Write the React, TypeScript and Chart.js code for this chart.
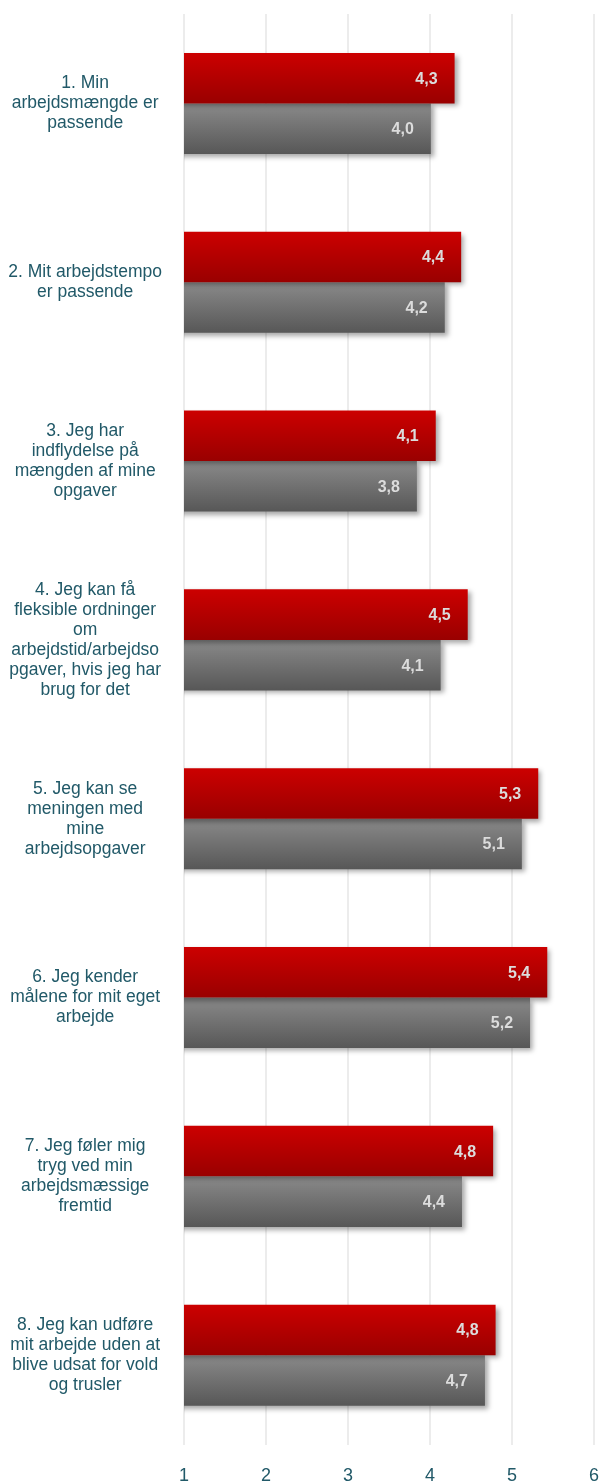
import React, { useEffect, useRef } from "react";
import { Chart, registerables } from "chart.js";

Chart.register(...registerables);

const categories: string[][] = [
  ["1. Min", "arbejdsmængde er", "passende"],
  ["2. Mit arbejdstempo", "er passende"],
  ["3. Jeg har", "indflydelse på", "mængden af mine", "opgaver"],
  ["4. Jeg kan få", "fleksible ordninger", "om", "arbejdstid/arbejdso", "pgaver, hvis jeg har", "brug for det"],
  ["5. Jeg kan se", "meningen med", "mine", "arbejdsopgaver"],
  ["6. Jeg kender", "målene for mit eget", "arbejde"],
  ["7. Jeg føler mig", "tryg ved min", "arbejdsmæssige", "fremtid"],
  ["8. Jeg kan udføre", "mit arbejde uden at", "blive udsat for vold", "og trusler"],
];

const seriesRed: number[] = [4.3, 4.38, 4.07, 4.46, 5.32, 5.43, 4.77, 4.8];
const seriesGray: number[] = [4.01, 4.18, 3.84, 4.13, 5.12, 5.22, 4.39, 4.67];
const xTicks: number[] = [1, 2, 3, 4, 5, 6];

const CAT_PCT = 0.565;
const TEXT_COLOR = "#215968";

function makeGradient(ctx: any, datasetIndex: number, colors: [string, string]) {
  const chart = ctx.chart;
  const area = chart.chartArea;
  const yScale = chart.scales && chart.scales.y;
  if (!area || !yScale) return colors[1];
  const center = yScale.getPixelForValue(ctx.dataIndex);
  const band = (area.bottom - area.top) / categories.length;
  const th = (band * CAT_PCT) / 2;
  const top = datasetIndex === 0 ? center - th : center;
  const g = chart.ctx.createLinearGradient(0, top, 0, top + th);
  g.addColorStop(0, colors[0]);
  g.addColorStop(1, colors[1]);
  return g;
}

const shadowPlugin = {
  id: "barShadow",
  beforeDatasetDraw(chart: any) {
    const c = chart.ctx;
    c.save();
    c.shadowColor = "rgba(0,0,0,0.35)";
    c.shadowBlur = 5;
    c.shadowOffsetX = 3;
    c.shadowOffsetY = 3;
  },
  afterDatasetDraw(chart: any) {
    chart.ctx.restore();
  },
};

const labelPlugin = {
  id: "valueLabels",
  afterDatasetsDraw(chart: any) {
    const c = chart.ctx;
    c.save();
    c.font = "bold 16px 'Liberation Sans', Arial, sans-serif";
    c.fillStyle = "#dcdcdc";
    c.textAlign = "right";
    c.textBaseline = "middle";
    chart.data.datasets.forEach((ds: any, di: number) => {
      const meta = chart.getDatasetMeta(di);
      meta.data.forEach((el: any, i: number) => {
        const v = ds.data[i] as number;
        const txt = v.toFixed(1).replace(".", ",");
        c.fillText(txt, el.x - 17, el.y + 1);
      });
    });
    c.restore();
  },
};

export default function App() {
  const ref = useRef<HTMLCanvasElement | null>(null);
  useEffect(() => {
    if (!ref.current) return;
    const chart = new Chart(ref.current, {
      type: "bar",
      data: {
        labels: categories,
        datasets: [
          {
            label: "A",
            data: seriesRed,
            backgroundColor: (ctx: any) => makeGradient(ctx, 0, ["#cc0000", "#990000"]),
            borderWidth: 0,
            categoryPercentage: CAT_PCT,
            barPercentage: 1,
          },
          {
            label: "B",
            data: seriesGray,
            backgroundColor: (ctx: any) => makeGradient(ctx, 1, ["#8a8a8a", "#575757"]),
            borderWidth: 0,
            categoryPercentage: CAT_PCT,
            barPercentage: 1,
          },
        ],
      },
      options: {
        indexAxis: "y",
        responsive: true,
        maintainAspectRatio: false,
        animation: false,
        layout: { padding: { top: 14, bottom: 0, left: 0, right: 0 } },
        plugins: {
          legend: { display: false },
          tooltip: { enabled: false },
        },
        scales: {
          x: {
            type: "linear",
            min: 1,
            max: 6,
            afterBuildTicks: (scale: any) => {
              scale.ticks = xTicks.map((v) => ({ value: v }));
            },
            afterFit: (scale: any) => {
              scale.paddingLeft = 0;
              scale.paddingRight = 5;
            },
            ticks: {
              stepSize: 1,
              padding: 20.4,
              color: TEXT_COLOR,
              font: { family: "'Liberation Sans', Arial, sans-serif", size: 18 },
            },
            grid: { color: "#ececec", lineWidth: 2, drawTicks: false, tickLength: 0 },
            border: { display: false },
          },
          y: {
            afterFit: (scale: any) => {
              scale.width = 184;
              scale.paddingTop = 0;
              scale.paddingBottom = 0;
            },
            ticks: {
              crossAlign: "center",
              padding: 22,
              color: TEXT_COLOR,
              font: { family: "'Liberation Sans', Arial, sans-serif", size: 17.5, lineHeight: "20px" },
            },
            grid: { display: false, drawTicks: false, tickLength: 0 },
            border: { display: false },
          },
        },
      },
      plugins: [shadowPlugin, labelPlugin],
    } as any);
    return () => chart.destroy();
  }, []);
  return (
    <div style={{ position: "absolute", left: 0, top: 0, width: 599, height: 1507 }}>
      <canvas ref={ref} />
    </div>
  );
}
